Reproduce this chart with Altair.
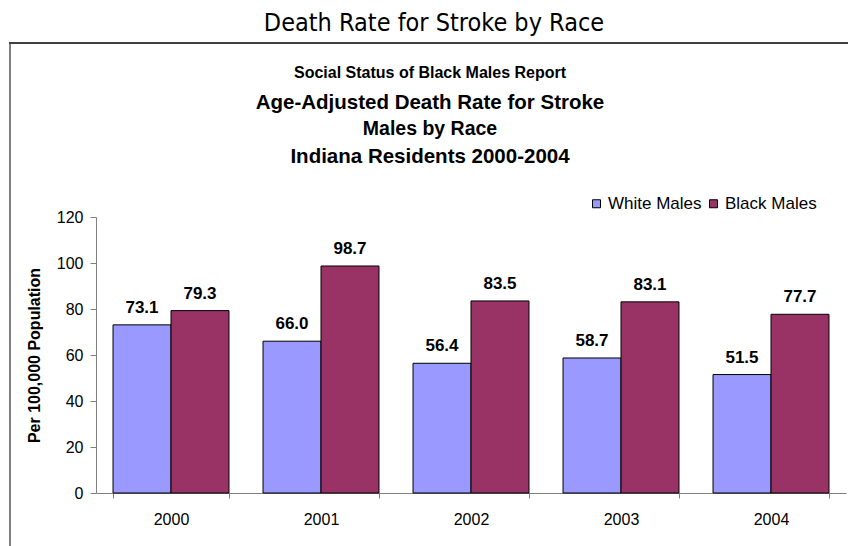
import altair as alt
import pandas as pd

# Age-adjusted stroke death rates per 100,000, Indiana males
years = ["2000", "2001", "2002", "2003", "2004"]
white_males = [73.1, 66.0, 56.4, 58.7, 51.5]
black_males = [79.3, 98.7, 83.5, 83.1, 77.7]
series = ["White Males", "Black Males"]
colors = ["#9999FF", "#993366"]
y_ticks = [0, 20, 40, 60, 80, 100, 120]

rows = []
for i, yr in enumerate(years):
    rows.append({"year": yr, "series": series[0], "value": white_males[i]})
    rows.append({"year": yr, "series": series[1], "value": black_males[i]})
df = pd.DataFrame(rows)

FONT = "Liberation Sans, Arial, sans-serif"
NARROW = "Liberation Sans Narrow, Arial Narrow, DejaVu Sans Condensed, sans-serif"

x_enc = alt.X(
    "year:N",
    sort=years,
    scale=alt.Scale(paddingInner=0.227, paddingOuter=0.1135),
    axis=alt.Axis(
        title=None, labelAngle=0, tickBand="extent", tickSize=5,
        domainColor="#808080", tickColor="#808080", labelColor="black",
        labelFont=FONT, labelFontSize=16, labelPadding=13,
    ),
)
xoff = alt.XOffset("series:N", sort=series,
                   scale=alt.Scale(paddingInner=0, paddingOuter=0))
y_enc = alt.Y(
    "value:Q",
    scale=alt.Scale(domain=[0, 120], nice=False),
    axis=alt.Axis(
        values=y_ticks, grid=False, tickSize=6,
        domainColor="#808080", tickColor="#808080", labelColor="black",
        labelFont=FONT, labelFontSize=16, labelPadding=7,
        title="Per 100,000 Population", titleFont=FONT, titleFontSize=16,
        titleFontWeight="bold", titleColor="black", titlePadding=14,
    ),
)

bars = alt.Chart(df).mark_bar(stroke="black", strokeWidth=1).encode(
    x=x_enc,
    xOffset=xoff,
    y=y_enc,
    color=alt.Color(
        "series:N",
        sort=series,
        scale=alt.Scale(domain=series, range=colors),
        legend=alt.Legend(
            title=None, orient="none", direction="horizontal",
            legendX=492, legendY=-22,
            symbolType="square", symbolSize=64,
            symbolStrokeColor="black", symbolStrokeWidth=1,
            labelFont=FONT, labelFontSize=17, labelColor="black",
            labelOffset=3, columnPadding=3,
        ),
    ),
)

labels = alt.Chart(df).mark_text(
    font=FONT, fontSize=17, fontWeight="bold", color="black",
    baseline="alphabetic", dy=-12,
).encode(
    x=alt.X("year:N", sort=years),
    xOffset=xoff,
    y="value:Q",
    text=alt.Text("value:Q", format=".1f"),
)

# Frame around the chart body
frame = alt.Chart(pd.DataFrame({"k": [0]})).mark_rect(
    fillOpacity=0, stroke="black", strokeWidth=1
).encode(
    x=alt.value(-86), x2=alt.value(800),
    y=alt.value(-174), y2=alt.value(400),
)
frame_top = alt.Chart(pd.DataFrame({"k": [0]})).mark_rule(
    color="#404040", strokeWidth=2
).encode(
    x=alt.value(-87), x2=alt.value(800), y=alt.value(-174),
)


def title_text(text, y, size, weight="bold", font=FONT, x=334):
    return alt.Chart(pd.DataFrame({"t": [text]})).mark_text(
        font=font, fontSize=size, fontWeight=weight, color="black",
        align="center", baseline="alphabetic",
    ).encode(x=alt.value(x), y=alt.value(y), text="t:N")


titles = [
    title_text("Death Rate for Stroke by Race", -186, 25, "normal", NARROW, 338),
    title_text("Social Status of Black Males Report", -139, 16),
    title_text("Age-Adjusted Death Rate for Stroke", -108, 20.5),
    title_text("Males by Race", -82, 19.5),
    title_text("Indiana Residents 2000-2004", -54, 20.5),
]

chart = alt.layer(frame, frame_top, bars, labels, *titles).properties(
    width=750,
    height=276,
    autosize=alt.AutoSizeParams(type="none"),
    padding={"left": 96, "top": 217, "right": 2, "bottom": 53},
    background="white",
).configure_view(stroke=None)

chart.save("out.html", embed_options={"renderer": "svg", "actions": False})
